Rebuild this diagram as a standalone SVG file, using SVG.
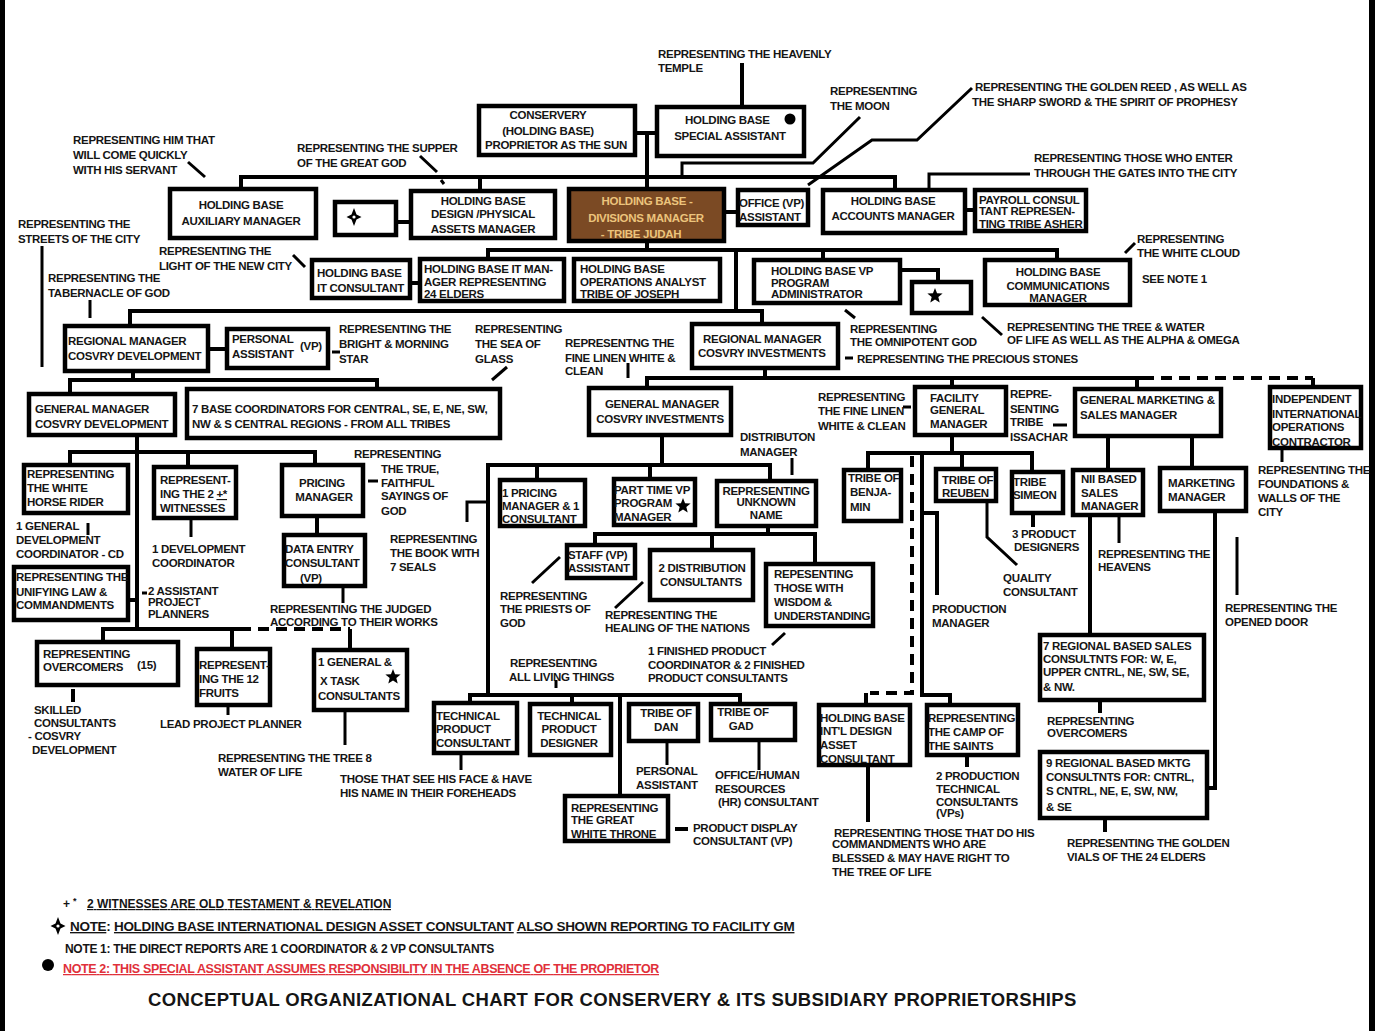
<svg xmlns="http://www.w3.org/2000/svg" width="1375" height="1031" viewBox="0 0 1375 1031" xml:space="preserve">
<style>
text{font-family:"Liberation Sans",Arial,sans-serif;font-weight:bold;font-size:11.5px;letter-spacing:-0.3px;fill:#151515}
.m{text-anchor:middle}
.b{fill:#fff;stroke:#000;stroke-width:4.5}
.c path{stroke:#000;stroke-width:4;fill:none}
.c path.p{stroke-width:3}
.c path.d{stroke-dasharray:11 7}
.u{text-decoration:underline}
.red{fill:#e0303a}
</style>
<defs>
<path id="star5" d="M0,-8L2.06,-2.83L7.61,-2.47L3.33,1.08L4.7,6.47L0,3.5L-4.7,6.47L-3.33,1.08L-7.61,-2.47L-2.06,-2.83Z" fill="#000"/>
<g id="star4"><path d="M0,-9L2.5,-2.5L7.5,0L2.5,2.5L0,9L-2.5,2.5L-7.5,0L-2.5,-2.5Z" fill="#000"/><circle r="1.6" fill="#fff"/></g>
</defs>
<rect width="1375" height="1031" fill="#fff"/>
<rect x="0" y="0" width="5" height="1031" fill="#000"/>
<rect x="1369" y="0" width="6" height="1031" fill="#000"/>

<g class="c" id="connectors">
<path d="M742,63V105"/>
<path d="M637,133H655"/>
<path d="M647,133V187"/>
<path d="M241,187V177H895V188"/>
<path d="M480,177V189"/>
<path d="M398,222H409"/>
<path d="M726,212H736"/>
<path d="M967,210H973"/>
<path d="M647,243V250"/>
<path d="M488,257V250H1057V258"/>
<path d="M823,250V258"/>
<path d="M736,250V311"/>
<path d="M130,324V311H762V322"/>
<path d="M412,283H418"/>
<path d="M902,270H938V280"/>
<path d="M210,349H225"/>
<path d="M133,373V380"/>
<path d="M70,392V380H377V387"/>
<path d="M765,370V378"/>
<path d="M647,386V378H1143"/>
<path class="d" d="M1143,378H1313"/>
<path d="M1313,378V385"/>
<path d="M952,378V385"/>
<path d="M1137,378V387"/>
<path d="M137,437V629"/>
<path d="M70,463V452H315V463"/>
<path d="M188,452V465"/>
<path d="M317,518V533"/>
<path d="M130,600H137"/>
<path d="M103,640V629H240"/>
<path class="d" d="M240,629H350"/>
<path d="M350,629V648"/>
<path d="M232,629V647"/>
<path d="M662,437V465"/>
<path d="M488,695V465H770V479"/>
<path d="M537,465V478"/>
<path d="M650,465V477"/>
<path d="M768,528V534"/>
<path d="M595,543V534H815V562"/>
<path d="M712,534V548"/>
<path d="M470,701V695H740V702"/>
<path d="M572,695V702"/>
<path d="M620,695V794"/>
<path d="M952,437V453"/>
<path d="M868,468V453H1032V470"/>
<path d="M962,453V467"/>
<path class="d" d="M912,456V693H870"/>
<path d="M866,693V703"/>
<path d="M922,453V695H950V703"/>
<path d="M922,513H937V595"/>
<path d="M1108,438V468"/>
<path d="M1192,438V466"/>
<path d="M1090,517V633"/>
<path d="M1215,513V788H1209"/>
<path d="M73,689V702"/>
<path d="M1100,702V713"/>
<path d="M1105,820V832"/>
<path d="M868,767V822"/>
<path d="M967,757V767"/>
<path d="M1033,515V527"/>
<path class="p" d="M860,117L813,163H682V177"/>
<path class="p" d="M972,88L917,140H872L808,185"/>
<path class="p" d="M188,162L205,177"/>
<path class="p" d="M420,156L437,172M441,180L444,184"/>
<path class="p" d="M1030,174H929V188"/>
<path class="p" d="M293,255L305,267"/>
<path class="p" d="M1125,253L1135,243"/>
<path class="p" d="M42,246V367"/>
<path class="p" d="M90,300V318"/>
<path class="p" d="M845,310L855,318"/>
<path class="p" d="M982,317L1002,335"/>
<path class="p" d="M845,358H853"/>
<path class="p" d="M332,352H340"/>
<path class="p" d="M507,367L492,380"/>
<path class="p" d="M628,363V378"/>
<path class="p" d="M88,523V535"/>
<path class="p" d="M191,520V537"/>
<path class="p" d="M368,481H378"/>
<path class="p" d="M343,588V603"/>
<path class="p" d="M142,593H147"/>
<path class="p" d="M228,707V715"/>
<path class="p" d="M345,712V745"/>
<path class="p" d="M792,458V475"/>
<path class="p" d="M488,502H467V522"/>
<path class="p" d="M560,557L532,583"/>
<path class="p" d="M643,582L615,608"/>
<path class="p" d="M785,633L772,645"/>
<path class="p" d="M556,680V688"/>
<path class="p" d="M461,755V770"/>
<path class="p" d="M667,742V765"/>
<path class="p" d="M759,742V770"/>
<path d="M675,829H688"/>
<path class="p" d="M903,407H911"/>
<path class="p" d="M1053,425H1067"/>
<path class="p" d="M987,503V537L1017,565"/>
<path class="p" d="M1119,517V543"/>
<path class="p" d="M1237,537V595"/>
<path class="p" d="M1282,450V462"/>
</g>

<g id="labels">
<text x="658" y="58">REPRESENTING THE HEAVENLY</text><text x="658" y="72">TEMPLE</text>
<text x="830" y="95">REPRESENTING</text><text x="830" y="110">THE MOON</text>
<text x="975" y="91">REPRESENTING THE GOLDEN REED , AS WELL AS</text><text x="972" y="106">THE SHARP SWORD &amp; THE SPIRIT OF PROPHESY</text>
<text x="73" y="144">REPRESENTING HIM THAT</text><text x="73" y="159">WILL COME QUICKLY</text><text x="73" y="174">WITH HIS SERVANT</text>
<text x="297" y="152">REPRESENTING THE SUPPER</text><text x="297" y="167">OF THE GREAT GOD</text>
<text x="1034" y="162">REPRESENTING THOSE WHO ENTER</text><text x="1034" y="177">THROUGH THE GATES INTO THE CITY</text>
<text x="18" y="228">REPRESENTING THE</text><text x="18" y="243">STREETS OF THE CITY</text>
<text x="159" y="255">REPRESENTING THE</text><text x="159" y="270">LIGHT OF THE NEW CITY</text>
<text x="48" y="282">REPRESENTING THE</text><text x="48" y="297">TABERNACLE OF GOD</text>
<text x="1137" y="243">REPRESENTING</text><text x="1137" y="257">THE WHITE CLOUD</text>
<text x="1142" y="283">SEE NOTE 1</text>
<text x="850" y="333">REPRESENTING</text><text x="850" y="346">THE OMNIPOTENT GOD</text>
<text x="1007" y="331">REPRESENTING THE TREE &amp; WATER</text><text x="1007" y="344">OF LIFE AS WELL AS THE ALPHA &amp; OMEGA</text>
<text x="857" y="363">REPRESENTING THE PRECIOUS STONES</text>
<text x="339" y="333">REPRESENTING THE</text><text x="339" y="348">BRIGHT &amp; MORNING</text><text x="339" y="363">STAR</text>
<text x="475" y="333">REPRESENTING</text><text x="475" y="348">THE SEA OF</text><text x="475" y="363">GLASS</text>
<text x="565" y="347">REPRESENTNG THE</text><text x="565" y="362">FINE LINEN WHITE &amp;</text><text x="565" y="375">CLEAN</text>
<text x="818" y="401">REPRESENTING</text><text x="818" y="415">THE FINE LINEN</text><text x="818" y="430">WHITE &amp; CLEAN</text>
<text x="1010" y="398">REPRE-</text><text x="1010" y="413">SENTING</text><text x="1010" y="426">TRIBE</text><text x="1010" y="441">ISSACHAR</text>
<text x="740" y="441">DISTRIBUTON</text><text x="740" y="456">MANAGER</text>
<text x="1258" y="474">REPRESENTING THE</text><text x="1258" y="488">FOUNDATIONS &amp;</text><text x="1258" y="502">WALLS OF THE</text><text x="1258" y="516">CITY</text>
<text x="354" y="458">REPRESENTING</text><text x="381" y="473">THE TRUE,</text><text x="381" y="487">FAITHFUL</text><text x="381" y="500">SAYINGS OF</text><text x="381" y="515">GOD</text>
<text x="16" y="530">1 GENERAL</text><text x="16" y="544">DEVELOPMENT</text><text x="16" y="558">COORDINATOR - CD</text>
<text x="152" y="553">1 DEVELOPMENT</text><text x="152" y="567">COORDINATOR</text>
<text x="390" y="543">REPRESENTING</text><text x="390" y="557">THE BOOK WITH</text><text x="390" y="571">7 SEALS</text>
<text x="148" y="595">2 ASSISTANT</text><text x="148" y="606">PROJECT</text><text x="148" y="618">PLANNERS</text>
<text x="270" y="613">REPRESENTING THE JUDGED</text><text x="270" y="626">ACCORDING TO THEIR WORKS</text>
<text x="34" y="714">SKILLED</text><text x="34" y="727">CONSULTANTS</text><text x="28" y="740">- COSVRY</text><text x="32" y="754">DEVELOPMENT</text>
<text x="160" y="728">LEAD PROJECT PLANNER</text>
<text x="218" y="762">REPRESENTING THE TREE 8</text><text x="218" y="776">WATER OF LIFE</text>
<text x="340" y="783">THOSE THAT SEE HIS FACE &amp; HAVE</text><text x="340" y="797">HIS NAME IN THEIR FOREHEADS</text>
<text x="500" y="600">REPRESENTING</text><text x="500" y="613">THE PRIESTS OF</text><text x="500" y="627">GOD</text>
<text x="605" y="619">REPRESENTING THE</text><text x="605" y="632">HEALING  OF THE NATIONS</text>
<text x="648" y="655">1 FINISHED PRODUCT</text><text x="648" y="669">COORDINATOR &amp; 2 FINISHED</text><text x="648" y="682">PRODUCT CONSULTANTS</text>
<text x="510" y="667">REPRESENTING</text><text x="509" y="681">ALL LIVING THINGS</text>
<text x="636" y="775">PERSONAL</text><text x="636" y="789">ASSISTANT</text>
<text x="715" y="779">OFFICE/HUMAN</text><text x="715" y="793">RESOURCES</text><text x="718" y="806">(HR) CONSULTANT</text>
<text x="693" y="832">PRODUCT DISPLAY</text><text x="693" y="845">CONSULTANT (VP)</text>
<text x="834" y="837">REPRESENTING THOSE THAT DO HIS</text><text x="832" y="848">COMMANDMENTS  WHO ARE</text><text x="832" y="862">BLESSED &amp; MAY HAVE RIGHT TO</text><text x="832" y="876">THE TREE OF LIFE</text>
<text x="936" y="780">2 PRODUCTION</text><text x="936" y="793">TECHNICAL</text><text x="936" y="806">CONSULTANTS</text><text x="936" y="817">(VPs)</text>
<text x="1067" y="847">REPRESENTING THE GOLDEN</text><text x="1067" y="861">VIALS OF THE 24 ELDERS</text>
<text x="1047" y="725">REPRESENTING</text><text x="1047" y="737">OVERCOMERS</text>
<text x="1012" y="538">3  PRODUCT</text><text x="1014" y="551">DESIGNERS</text>
<text x="1003" y="582">QUALITY</text><text x="1003" y="596">CONSULTANT</text>
<text x="932" y="613">PRODUCTION</text><text x="932" y="627">MANAGER</text>
<text x="1098" y="558">REPRESENTING THE</text><text x="1098" y="571">HEAVENS</text>
<text x="1225" y="612">REPRESENTING THE</text><text x="1225" y="626">OPENED DOOR</text>
</g>

<g id="n-conservery"><rect class="b" x="479" y="106" width="156" height="49"/><text class="m" x="548" y="119">CONSERVERY</text><text class="m" x="548" y="135">(HOLDING BASE)</text><text class="m" x="556" y="149">PROPRIETOR AS THE SUN</text></g>
<g id="n-special"><rect class="b" x="657" y="107" width="147" height="49"/><text x="685" y="124">HOLDING BASE</text><circle cx="790" cy="119" r="5.5" fill="#000"/><text class="m" x="730" y="140">SPECIAL ASSISTANT</text></g>
<g id="n-auxiliary"><rect class="b" x="170" y="189" width="146" height="49"/><text class="m" x="241" y="209">HOLDING BASE</text><text class="m" x="241" y="225">AUXILIARY  MANAGER</text></g>
<g id="n-starbox"><rect class="b" x="335" y="202" width="61" height="33"/><use href="#star4" x="354" y="217"/></g>
<g id="n-design"><rect class="b" x="411" y="191" width="144" height="47"/><text class="m" x="483" y="205">HOLDING BASE</text><text class="m" x="483" y="218">DESIGN /PHYSICAL</text><text class="m" x="483" y="233">ASSETS MANAGER</text></g>
<g id="n-divisions"><rect x="569" y="189" width="155" height="52" fill="#7b4a24" stroke="#000" stroke-width="4.5"/><text class="m" x="647" y="205" style="fill:#ecc47c">HOLDING BASE -</text><text class="m" x="646" y="222" style="fill:#ecc47c">DIVISIONS MANAGER</text><text class="m" x="641" y="238" style="fill:#ecc47c">- TRIBE JUDAH</text></g>
<g id="n-office"><rect class="b" x="738" y="190" width="70" height="35"/><text x="739" y="207">OFFICE (VP)</text><text x="739" y="221">ASSISTANT</text></g>
<g id="n-accounts"><rect class="b" x="823" y="190" width="142" height="43"/><text class="m" x="893" y="205">HOLDING BASE</text><text class="m" x="893" y="220">ACCOUNTS  MANAGER</text></g>
<g id="n-payroll"><rect class="b" x="975" y="190" width="111" height="41"/><text x="979" y="204">PAYROLL CONSUL</text><text x="979" y="215">TANT REPRESEN-</text><text x="979" y="228">TING TRIBE ASHER</text></g>
<g id="n-itcons"><rect class="b" x="312" y="260" width="98" height="38"/><text x="317" y="277">HOLDING BASE</text><text x="317" y="292">IT CONSULTANT</text></g>
<g id="n-itmgr"><rect class="b" x="420" y="259" width="144" height="42"/><text x="424" y="273">HOLDING BASE IT MAN-</text><text x="424" y="286">AGER  REPRESENTING</text><text x="424" y="298">24  ELDERS</text></g>
<g id="n-ops"><rect class="b" x="574" y="259" width="146" height="42"/><text x="580" y="273">HOLDING BASE</text><text x="580" y="286">OPERATIONS  ANALYST</text><text x="580" y="298">TRIBE OF JOSEPH</text></g>
<g id="n-vpprog"><rect class="b" x="754" y="260" width="146" height="43"/><text x="771" y="275">HOLDING BASE VP</text><text x="771" y="287">PROGRAM</text><text x="771" y="298">ADMINISTRATOR</text></g>
<g id="n-starbox2"><rect class="b" x="912" y="282" width="59" height="31"/><use href="#star5" x="935" y="296"/></g>
<g id="n-comms"><rect class="b" x="985" y="260" width="145" height="45"/><text class="m" x="1058" y="276">HOLDING BASE</text><text class="m" x="1058" y="290">COMMUNICATIONS</text><text class="m" x="1058" y="302">MANAGER</text></g>
<g id="n-regdev"><rect class="b" x="65" y="326" width="143" height="45"/><text x="68" y="345">REGIONAL  MANAGER</text><text x="68" y="360">COSVRY DEVELOPMENT</text></g>
<g id="n-personal"><rect class="b" x="227" y="329" width="101" height="39"/><text x="232" y="343">PERSONAL</text><text x="232" y="358">ASSISTANT</text><text x="300" y="350">(VP)</text></g>
<g id="n-reginv"><rect class="b" x="692" y="324" width="146" height="44"/><text x="703" y="343">REGIONAL  MANAGER</text><text x="698" y="357">COSVRY INVESTMENTS</text></g>
<g id="n-gmdev"><rect class="b" x="29" y="394" width="146" height="41"/><text x="35" y="413">GENERAL MANAGER</text><text x="35" y="428">COSVRY DEVELOPMENT</text></g>
<g id="n-base7"><rect class="b" x="187" y="389" width="313" height="49"/><text x="192" y="413">7 BASE COORDINATORS FOR CENTRAL, SE, E, NE, SW,</text><text x="192" y="428">NW &amp; S CENTRAL REGIONS -  FROM ALL TRIBES</text></g>
<g id="n-gminv"><rect class="b" x="589" y="388" width="142" height="47"/><text class="m" x="662" y="408">GENERAL MANAGER</text><text class="m" x="660" y="423">COSVRY  INVESTMENTS</text></g>
<g id="n-facility"><rect class="b" x="915" y="387" width="91" height="48"/><text x="930" y="402">FACILITY</text><text x="930" y="414">GENERAL</text><text x="930" y="428">MANAGER</text></g>
<g id="n-genmkt"><rect class="b" x="1075" y="389" width="146" height="47"/><text x="1080" y="404">GENERAL  MARKETING &amp;</text><text x="1080" y="419">SALES MANAGER</text></g>
<g id="n-indep"><rect class="b" x="1270" y="387" width="91" height="61"/><text x="1272" y="403">INDEPENDENT</text><text x="1272" y="418">INTERNATIONAL</text><text x="1272" y="431">OPERATIONS</text><text x="1272" y="446">CONTRACTOR</text></g>
<g id="n-whitehorse"><rect class="b" x="24" y="465" width="104" height="48"/><text x="27" y="478">REPRESENTING</text><text x="27" y="492">THE WHITE</text><text x="27" y="506">HORSE RIDER</text></g>
<g id="n-witnesses"><rect class="b" x="154" y="467" width="82" height="51"/><text x="160" y="484">REPRESENT-</text><text x="160" y="498">ING THE 2 <tspan class="u">+*</tspan></text><text x="160" y="512">WITNESSES</text></g>
<g id="n-pricing"><rect class="b" x="282" y="465" width="81" height="51"/><text class="m" x="322" y="487">PRICING</text><text class="m" x="324" y="501">MANAGER</text></g>
<g id="n-pricing1"><rect class="b" x="500" y="480" width="85" height="46"/><text x="502" y="497">1 PRICING</text><text x="502" y="510">MANAGER &amp; 1</text><text x="502" y="523">CONSULTANT</text></g>
<g id="n-parttime"><rect class="b" x="614" y="479" width="81" height="46"/><text x="614" y="494">PART TIME VP</text><text x="614" y="507">PROGRAM</text><text x="614" y="521">MANAGER</text><use href="#star5" x="683" y="506"/></g>
<g id="n-unknown"><rect class="b" x="717" y="481" width="99" height="45"/><text class="m" x="766" y="495">REPRESENTING</text><text class="m" x="766" y="506">UNKNOWN</text><text class="m" x="766" y="519">NAME</text></g>
<g id="n-benjamin"><rect class="b" x="844" y="470" width="57" height="51"/><text x="848" y="482">TRIBE OF</text><text x="850" y="496">BENJA-</text><text x="850" y="511">MIN</text></g>
<g id="n-reuben"><rect class="b" x="936" y="469" width="60" height="32"/><text x="942" y="484">TRIBE OF</text><text x="942" y="497">REUBEN</text></g>
<g id="n-simeon"><rect class="b" x="1012" y="472" width="51" height="41"/><text x="1013" y="486">TRIBE</text><text x="1013" y="499">SIMEON</text></g>
<g id="n-nii"><rect class="b" x="1073" y="470" width="70" height="45"/><text x="1081" y="483">NII BASED</text><text x="1081" y="497">SALES</text><text x="1081" y="510">MANAGER</text></g>
<g id="n-marketing"><rect class="b" x="1160" y="468" width="86" height="43"/><text x="1168" y="487">MARKETING</text><text x="1168" y="501">MANAGER</text></g>
<g id="n-dataentry"><rect class="b" x="284" y="535" width="81" height="51"/><text x="285" y="553">DATA ENTRY</text><text x="285" y="567">CONSULTANT</text><text x="300" y="582">(VP)</text></g>
<g id="n-unifying"><rect class="b" x="14" y="567" width="114" height="53"/><text x="16" y="581">REPRESENTING THE</text><text x="16" y="596">UNIFYING LAW &amp;</text><text x="16" y="609">COMMANDMENTS</text></g>
<g id="n-staff"><rect class="b" x="567" y="545" width="68" height="33"/><text x="568" y="559">STAFF (VP)</text><text x="568" y="572">ASSISTANT</text></g>
<g id="n-dist2"><rect class="b" x="650" y="550" width="103" height="50"/><text class="m" x="702" y="572">2 DISTRIBUTION</text><text class="m" x="701" y="586">CONSULTANTS</text></g>
<g id="n-wisdom"><rect class="b" x="766" y="564" width="107" height="62"/><text x="774" y="578">REPESENTING</text><text x="774" y="592">THOSE  WITH</text><text x="774" y="606">WISDOM &amp;</text><text x="774" y="620">UNDERSTANDING</text></g>
<g id="n-regional7"><rect class="b" x="1040" y="635" width="164" height="65"/><text x="1043" y="650">7 REGIONAL BASED  SALES</text><text x="1043" y="663">CONSULTNTS FOR: W, E,</text><text x="1043" y="676">UPPER CNTRL, NE, SW, SE,</text><text x="1043" y="691">&amp;  NW.</text></g>
<g id="n-overcomers"><rect class="b" x="37" y="642" width="141" height="43"/><text x="43" y="658">REPRESENTING</text><text x="43" y="671">OVERCOMERS</text><text x="137" y="669">(15)</text></g>
<g id="n-fruits12"><rect class="b" x="197" y="649" width="73" height="56"/><text x="199" y="669">REPRESENT-</text><text x="199" y="683">ING THE 12</text><text x="199" y="697">FRUITS</text></g>
<g id="n-xtask"><rect class="b" x="314" y="650" width="93" height="60"/><text x="318" y="666">1 GENERAL &amp;</text><text x="320" y="685">X TASK</text><text x="318" y="700">CONSULTANTS</text><use href="#star5" x="393" y="677"/></g>
<g id="n-techcons"><rect class="b" x="434" y="703" width="83" height="50"/><text x="436" y="720">TECHNICAL</text><text x="436" y="733">PRODUCT</text><text x="436" y="747">CONSULTANT</text></g>
<g id="n-techdes"><rect class="b" x="530" y="704" width="81" height="51"/><text class="m" x="569" y="720">TECHNICAL</text><text class="m" x="569" y="733">PRODUCT</text><text class="m" x="569" y="747">DESIGNER</text></g>
<g id="n-dan"><rect class="b" x="629" y="704" width="69" height="37"/><text class="m" x="666" y="717">TRIBE OF</text><text class="m" x="666" y="731">DAN</text></g>
<g id="n-gad"><rect class="b" x="711" y="704" width="84" height="36"/><text class="m" x="743" y="716">TRIBE OF</text><text class="m" x="741" y="730">GAD</text></g>
<g id="n-hbintl"><rect class="b" x="819" y="705" width="91" height="60"/><text x="820" y="722">HOLDING BASE</text><text x="820" y="735">INT'L DESIGN</text><text x="820" y="749">ASSET</text><text x="820" y="763">CONSULTANT</text></g>
<g id="n-camp"><rect class="b" x="927" y="705" width="91" height="50"/><text x="928" y="722">REPRESENTING</text><text x="928" y="736">THE CAMP OF</text><text x="928" y="750">THE SAINTS</text></g>
<g id="n-regional9"><rect class="b" x="1040" y="752" width="167" height="66"/><text x="1046" y="767">9 REGIONAL BASED   MKTG</text><text x="1046" y="781">CONSULTNTS FOR: CNTRL,</text><text x="1046" y="795">S CNTRL, NE, E, SW, NW,</text><text x="1046" y="811">&amp; SE</text></g>
<g id="n-throne"><rect class="b" x="565" y="796" width="103" height="45"/><text x="571" y="812">REPRESENTING</text><text x="571" y="824">THE GREAT</text><text x="571" y="838">WHITE THRONE</text></g>

<g id="legend">
<text x="63" y="908" style="font-size:12px">+</text><text x="73" y="904" style="font-size:9px">*</text>
<text x="87" y="908" class="u" style="font-size:12px" textLength="304" lengthAdjust="spacing">2 WITNESSES  ARE OLD TESTAMENT &amp; REVELATION</text>
<use href="#star4" x="58" y="926"/>
<text x="70" y="931" style="font-size:13.5px"><tspan class="u">NOTE</tspan>: <tspan class="u">HOLDING BASE INTERNATIONAL DESIGN ASSET CONSULTANT</tspan> <tspan class="u">ALSO SHOWN REPORTING TO FACILITY GM</tspan></text>
<text x="65" y="953" style="font-size:12px" textLength="429" lengthAdjust="spacing">NOTE 1:  THE DIRECT REPORTS ARE 1 COORDINATOR &amp; 2 VP CONSULTANTS</text>
<circle cx="48" cy="965" r="6" fill="#000"/>
<text x="63" y="973" class="red u" style="font-size:12.5px" textLength="596" lengthAdjust="spacing">NOTE 2: THIS  SPECIAL ASSISTANT  ASSUMES RESPONSIBILITY IN THE ABSENCE OF THE PROPRIETOR</text>
<text x="148" y="1006" style="font-size:18.5px" textLength="928" lengthAdjust="spacing">CONCEPTUAL ORGANIZATIONAL  CHART FOR CONSERVERY &amp; ITS SUBSIDIARY PROPRIETORSHIPS</text>
</g>
</svg>
